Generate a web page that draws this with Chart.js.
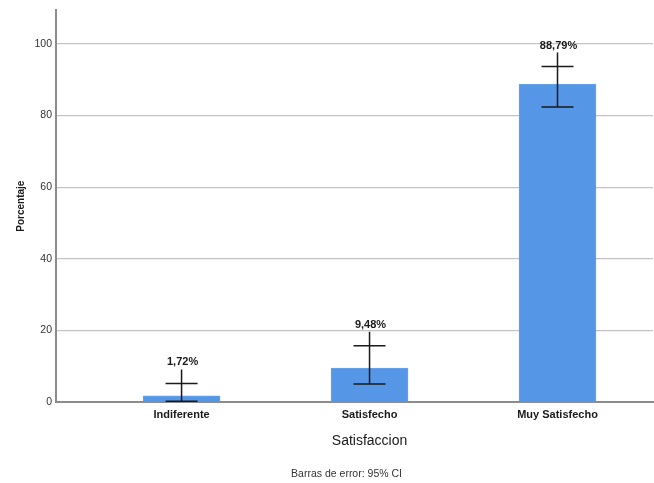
<!DOCTYPE html>
<html>
<head>
<meta charset="utf-8">
<script src="https://cdn.jsdelivr.net/npm/chart.js@4"></script>
<style>
  html, body { margin: 0; padding: 0; background: #fff; }
  #wrap { width: 654px; height: 483px; }
</style>
</head>
<body>
<div id="wrap"><canvas id="myChart" width="654" height="483"></canvas></div>
<script>
// datos
const categories = ['Indiferente', 'Satisfecho', 'Muy Satisfecho'];
const percentages = [1.72, 9.48, 88.79];
const ciLow = [0.2, 5.0, 82.4];
const ciHigh = [5.2, 15.7, 93.7];
const valueLabels = ['1,72%', '9,48%', '88,79%'];
const yTicks = [0, 20, 40, 60, 80, 100];

const sans = "'Liberation Sans', Arial, sans-serif";

// barras de error, etiquetas de valor y textos de abajo
const errorBars = {
    id: 'errorBars',
    afterDatasetsDraw(chart) {
        const ctx = chart.ctx;
        const xs = chart.scales.x;
        const ys = chart.scales.y;
        ctx.save();
        ctx.strokeStyle = '#1a1a1a';
        ctx.lineWidth = 1.5;
        ctx.font = 'bold 11px ' + sans;
        ctx.fillStyle = '#1a1a1a';
        ctx.textAlign = 'center';
        ctx.textBaseline = 'middle';
        for (let i = 0; i < categories.length; i++) {
            const x = xs.getPixelForValue(i + 1);
            const yLo = ys.getPixelForValue(ciLow[i]);
            const yHi = ys.getPixelForValue(ciHigh[i]);
            const labelY = yHi - 21;
            ctx.beginPath();
            ctx.moveTo(x, yLo);
            ctx.lineTo(x, labelY + 7);
            ctx.moveTo(x - 16, yLo);
            ctx.lineTo(x + 16, yLo);
            ctx.moveTo(x - 16, yHi);
            ctx.lineTo(x + 16, yHi);
            ctx.stroke();
            ctx.fillText(valueLabels[i], x + 1, labelY);
        }

        // titulo del eje x y nota de pie
        const mid = xs.getPixelForValue(2);
        ctx.fillStyle = '#1a1a1a';
        ctx.font = '14px ' + sans;
        ctx.fillText('Satisfaccion', mid, chart.chartArea.bottom + 39);
        ctx.fillStyle = '#333';
        ctx.font = '10.5px ' + sans;
        ctx.fillText('Barras de error: 95% CI', mid - 23, chart.chartArea.bottom + 72);
        ctx.restore();
    }
};

const ctx = document.getElementById('myChart').getContext('2d');
const myChart = new Chart(ctx, {
    type: 'bar',
    data: {
        datasets: [{
            label: 'Porcentaje',
            data: percentages.map((v, i) => ({ x: i + 1, y: v })),
            backgroundColor: '#5596e6',
            borderColor: '#6aa4ea',
            borderWidth: 1,
            barThickness: 77
        }]
    },
    options: {
        responsive: false,
        animation: false,
        layout: { padding: { top: 6, right: 1, left: 0, bottom: 0 } },
        plugins: {
            legend: { display: false },
            tooltip: { enabled: false }
        },
        scales: {
            x: {
                type: 'linear',
                offset: false,
                min: 0.332,
                max: 3.508,
                afterBuildTicks: (axis) => {
                    axis.ticks = categories.map((c, i) => ({ value: i + 1 }));
                },
                afterFit: (axis) => { axis.height = 81; },
                grid: { display: false, drawTicks: false },
                border: { display: true, color: '#8c8c8c', width: 2 },
                ticks: {
                    padding: 6,
                    color: '#1a1a1a',
                    maxRotation: 0,
                    autoSkip: false,
                    font: { family: sans, size: 11, weight: 'bold' },
                    callback: (v) => categories[v - 1]
                }
            },
            y: {
                min: 0,
                max: 109.4,
                afterBuildTicks: (axis) => {
                    axis.ticks = yTicks.map(v => ({ value: v }));
                },
                afterFit: (axis) => { axis.width = 56; },
                grid: { color: '#c4c4c4', lineWidth: 1.2, drawTicks: false },
                border: { display: true, color: '#8c8c8c', width: 2 },
                ticks: {
                    padding: 4,
                    color: '#333',
                    font: { family: sans, size: 10.5 }
                },
                title: {
                    display: true,
                    text: 'Porcentaje',
                    color: '#1a1a1a',
                    font: { family: sans, size: 10, weight: 'bold' },
                    padding: { top: 15, bottom: 0 }
                }
            }
        }
    },
    plugins: [errorBars]
});
</script>
</body>
</html>
